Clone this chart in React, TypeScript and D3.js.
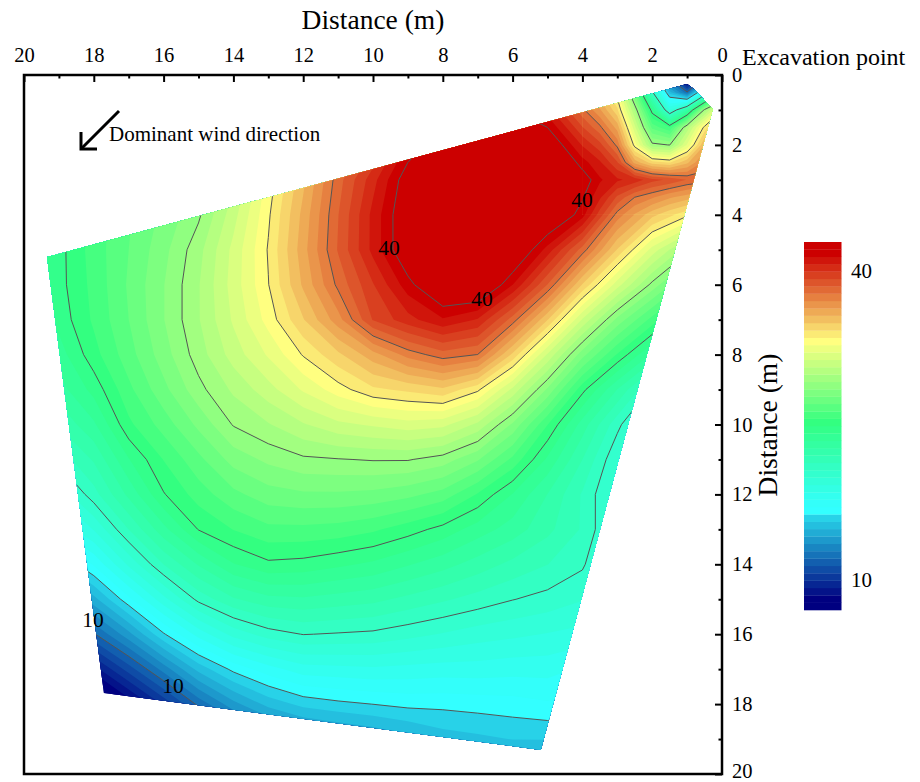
import React, {useEffect, useRef} from 'react';
import * as d3 from 'd3';

// axis ticks
const xMajor = [20, 18, 16, 14, 12, 10, 8, 6, 4, 2, 0];
const xMinor = [19, 17, 15, 13, 11, 9, 7, 5, 3, 1];
const yMajor = [0, 2, 4, 6, 8, 10, 12, 14, 16, 18, 20];
const yMinor = [1, 3, 5, 7, 9, 11, 13, 15, 17, 19];

// measured field, 1 m grid: rows y = 0..20, columns x = 20..0
const fieldRows = [
  [20.3,22.0,23.1,24.1,25.0,25.9,27.1,28.9,30.6,32.7,34.0,35.7,36.6,37.0,36.6,35.3,32.3,27.1,15.6,3.6,18.6],
  [20.3,22.0,23.3,24.4,25.2,26.3,27.6,29.7,31.9,34.0,35.7,37.9,39.1,39.8,40.0,38.9,35.9,32.3,22.4,20.7,31.4],
  [20.3,22.0,23.5,24.6,25.4,26.5,28.0,30.4,32.7,35.1,37.0,39.4,40.6,41.3,41.5,41.1,38.5,35.5,27.4,30.1,34.9],
  [20.3,22.0,23.7,24.8,25.9,26.7,28.4,31.0,33.4,36.1,38.3,40.6,42.1,42.6,42.1,41.5,40.6,38.7,37.4,36.4,35.3],
  [20.7,22.4,23.9,24.9,25.9,27.0,29.0,31.3,33.8,36.4,38.8,40.9,42.1,42.6,42.4,41.3,39.6,35.4,33.1,31.6,30.1],
  [21.1,22.6,23.9,25.0,26.2,27.6,29.5,31.5,34.0,36.5,38.8,40.9,42.6,42.6,41.3,39.0,36.1,32.8,29.7,27.4,25.0],
  [21.4,22.6,23.8,25.1,26.4,27.8,29.6,31.4,33.7,35.9,37.8,39.7,41.3,41.5,39.3,36.4,32.8,29.6,26.9,24.6,22.4],
  [21.6,22.4,23.7,25.0,26.4,27.8,29.4,31.0,32.8,34.7,37.2,38.3,39.2,38.5,36.1,32.9,29.2,26.2,24.0,21.8,19.8],
  [21.1,21.8,23.3,24.7,26.1,27.5,28.9,30.1,31.5,32.7,34.0,35.3,36.1,35.7,32.7,29.2,26.0,23.5,21.3,19.2,17.3],
  [20.5,21.1,22.4,24.1,25.5,26.9,28.0,29.0,30.1,31.1,32.0,32.3,32.7,31.6,29.1,26.3,23.1,20.7,18.4,16.4,14.7],
  [19.0,20.1,21.3,23.4,24.6,25.9,27.2,27.8,28.5,29.1,29.4,29.7,29.5,28.4,26.3,23.6,21.1,18.8,16.9,15.1,13.9],
  [17.9,18.8,20.1,22.1,23.6,24.8,26.0,26.6,27.0,27.1,27.2,27.2,26.8,25.8,24.1,22.0,20.0,17.9,16.0,14.3,13.0],
  [16.4,17.3,19.0,20.9,22.8,23.9,24.8,25.4,25.6,25.6,25.5,25.2,24.7,23.5,22.1,20.7,19.2,17.5,15.8,14.1,12.6],
  [14.7,15.8,17.2,19.3,21.2,22.9,23.6,24.1,24.1,24.0,23.7,23.2,22.6,21.8,21.1,20.2,19.2,17.5,15.6,14.1,12.6],
  [12.4,13.4,15.1,17.3,19.3,20.8,22.1,22.7,22.6,22.3,22.0,21.5,21.0,20.4,19.8,19.3,18.7,17.1,15.6,14.1,12.6],
  [9.4,10.6,12.6,14.8,16.9,18.8,19.9,20.5,20.6,20.4,20.2,19.8,19.4,19.0,18.6,18.3,17.9,16.6,15.1,13.9,12.6],
  [7.0,8.5,9.9,11.9,14.2,16.0,17.4,18.2,18.6,18.5,18.4,18.1,17.8,17.5,17.3,17.1,16.9,16.0,14.7,13.4,12.1],
  [4.4,6.1,6.8,8.9,11.0,13.1,14.5,15.4,16.1,16.2,16.3,16.2,16.1,16.1,16.0,16.0,15.6,14.9,13.9,13.0,11.7],
  [1.4,3.1,3.4,5.9,8.0,10.2,11.9,13.1,13.8,14.1,14.3,14.5,14.5,14.6,14.7,14.9,14.7,14.1,13.2,12.4,11.3],
  [-1.1,0.1,1.0,3.1,5.3,7.2,9.1,10.4,11.3,11.7,12.1,12.6,13.2,13.4,13.6,13.6,13.6,13.0,12.4,11.5,10.4],
  [-2.9,-2.0,-0.7,1.0,3.1,5.3,7.0,8.3,9.1,9.6,10.0,10.4,11.2,11.6,11.8,11.9,12.0,11.7,11.3,10.6,9.6],
];

// finer readings near the excavation point, 0.5 m grid: rows y = 0..4, columns x = 4..0
const nearRows = [
  [32.3,30.6,27.1,22.9,15.6,9.1,3.6,8.7,18.6],
  [34.1,33.1,31.0,25.4,18.8,13.2,10.2,16.9,22.9],
  [35.9,34.4,32.3,27.8,22.4,17.2,20.7,27.4,31.4],
  [37.2,35.9,34.0,29.5,24.8,23.6,28.1,31.7,34.0],
  [38.5,37.4,35.5,31.1,27.4,27.1,30.1,33.6,34.9],
  [39.6,38.7,37.2,34.0,32.5,32.1,33.4,35.3,35.7],
  [40.6,39.4,38.7,38.3,37.4,37.0,36.4,36.1,35.3],
  [40.1,38.7,37.0,35.7,35.1,34.4,33.9,33.4,32.7],
  [39.6,37.5,35.4,34.2,33.1,32.3,31.6,30.9,30.1],
];

// outline of the surveyed area (x, y in m)
const outlineX = [19.34, 1.0, 0.77, 0.43, 0.26, 5.19, 17.71];
const outlineY = [5.21, 0.26, 0.43, 0.8, 0.97, 19.31, 17.68];

// contour lines and their labels
const lineLevels = [10, 14.29, 18.57, 22.86, 27.14, 31.43, 35.71, 40];
const labelTexts = ['40', '40', '40', '10', '10'];
const labelX = [9.54, 4.01, 6.88, 18.02, 15.73];
const labelY = [4.95, 3.58, 6.41, 15.59, 17.48];

// colour bar
const bandCount = 50;
const bandMin = 5;
const bandStep = 0.7143;
const colorIndex = [0, 1, 12, 13, 14, 25, 36, 48, 49];
const colorValues = ['#000080', '#000080', '#28d2e8', '#33ffff', '#33fffa', '#33ff80', '#ffff80', '#cc0000', '#cc0000'];
const barLabels = [10, 40];

const FONT = '"Liberation Serif", "Times New Roman", serif';

export default function App() {
  const ref = useRef<SVGSVGElement>(null);

  useEffect(() => {
    const svg = d3.select(ref.current);
    svg.selectAll('*').remove();

    const x = d3.scaleLinear().domain([20, 0]).range([24, 722]);
    const y = d3.scaleLinear().domain([0, 20]).range([75, 774]);
    const bandColor = d3.scaleLinear<string>().domain(colorIndex).range(colorValues);
    const bandIds = d3.range(bandCount);
    const thresholds = bandIds.map(k => bandMin + k * bandStep);

    const defs = svg.append('defs');
    const outline = outlineX.map((v, i) => [x(v), y(outlineY[i])]);
    defs.append('clipPath').attr('id', 'area')
      .append('polygon').attr('points', outline.map(p => p.join(',')).join(' '));
    defs.append('clipPath').attr('id', 'near')
      .append('rect')
      .attr('x', x(4)).attr('y', y(0))
      .attr('width', x(0) - x(4)).attr('height', y(4) - y(0));

    const drawField = (g, rows, mx, my) => {
      const ny = rows.length;
      const nx = rows[0].length;
      const flat = rows.flat();
      const gen = d3.contours().size([nx, ny]);
      const path = d3.geoPath(d3.geoTransform({
        point(px, py) {
          this.stream.point(mx(px - 0.5), my(py - 0.5));
        }
      }));
      g.append('rect')
        .attr('x', 0).attr('y', 0).attr('width', 920).attr('height', 782)
        .attr('fill', bandColor(0));
      thresholds.forEach((t, k) => {
        g.append('path')
          .attr('d', path(gen.contour(flat, t)))
          .attr('fill', bandColor(k));
      });
      lineLevels.forEach(t => {
        g.append('path')
          .attr('d', path(gen.contour(flat, t)))
          .attr('fill', 'none')
          .attr('stroke', '#555')
          .attr('stroke-width', 1);
      });
    };

    const area = svg.append('g').attr('clip-path', 'url(#area)');
    drawField(area.append('g'), fieldRows, i => x(20 - i), j => y(j));
    drawField(area.append('g').attr('clip-path', 'url(#near)'), nearRows, i => x(4 - i * 0.5), j => y(j * 0.5));

    // contour labels
    svg.append('g').selectAll('text')
      .data(labelTexts)
      .enter()
      .append('text')
      .attr('x', (d, i) => x(labelX[i]))
      .attr('y', (d, i) => y(labelY[i]))
      .attr('dy', '0.33em')
      .attr('text-anchor', 'middle')
      .attr('font-family', FONT)
      .attr('font-size', 21.5)
      .attr('fill', '#000')
      .text(d => d);

    // axes, ticks point into the frame
    const styleAxis = g => {
      g.attr('font-family', FONT).attr('font-size', 20.5);
      g.select('.domain').remove();
      g.selectAll('line').attr('stroke', '#000').attr('stroke-width', 2);
      g.selectAll('text').attr('fill', '#000');
    };
    svg.append('g').attr('transform', 'translate(0,75)')
      .call(d3.axisTop(x).tickValues(xMajor).tickSize(-7).tickPadding(13).tickFormat(d3.format('d')))
      .call(styleAxis);
    svg.append('g').attr('transform', 'translate(0,75)')
      .call(d3.axisTop(x).tickValues(xMinor).tickSize(-3.5).tickFormat(() => ''))
      .call(styleAxis);
    const rightAxis = svg.append('g').attr('transform', 'translate(722,0)')
      .call(d3.axisRight(y).tickValues(yMajor).tickSize(-7).tickPadding(10).tickFormat(d3.format('d')))
      .call(styleAxis);
    // last label sits against the page edge
    rightAxis.selectAll('text').filter(d => d === 20).attr('y', -3.2);
    svg.append('g').attr('transform', 'translate(722,0)')
      .call(d3.axisRight(y).tickValues(yMinor).tickSize(-3.5).tickFormat(() => ''))
      .call(styleAxis);

    svg.append('rect')
      .attr('x', x(20)).attr('y', y(0))
      .attr('width', x(0) - x(20)).attr('height', y(20) - y(0))
      .attr('fill', 'none').attr('stroke', '#000').attr('stroke-width', 2.5);

    const addText = (tx, ty, size, str) => svg.append('text')
      .attr('x', tx).attr('y', ty)
      .attr('font-family', FONT).attr('font-size', size).attr('fill', '#000')
      .text(str);

    addText(373, 29, 27.5, 'Distance (m)').attr('text-anchor', 'middle');
    addText(742, 65, 24, 'Excavation point');
    addText(109, 141, 21, 'Dominant wind direction');
    addText(0, 0, 27.5, 'Distance (m)')
      .attr('text-anchor', 'middle')
      .attr('transform', 'translate(777,425) rotate(-90)');

    // wind arrow
    const arrow = svg.append('g').attr('fill', 'none').attr('stroke', '#000').attr('stroke-width', 3);
    arrow.append('path').attr('d', d3.line()([[119, 111], [81, 149]]));
    arrow.append('path').attr('d', d3.line()([[81, 132], [81, 149], [97, 149]]));

    // colour bar
    const barY = d3.scaleLinear().domain([0, bandCount]).range([610, 242]);
    svg.append('g').selectAll('rect')
      .data(bandIds)
      .enter()
      .append('rect')
      .attr('x', 804)
      .attr('y', k => barY(k + 1))
      .attr('width', 37.5)
      .attr('height', k => barY(k) - barY(k + 1) + 0.3)
      .attr('fill', k => bandColor(k));
    const labelPos = d3.scaleLinear().domain([10, 40]).range([580, 271]);
    svg.append('g').selectAll('text')
      .data(barLabels)
      .enter()
      .append('text')
      .attr('x', 851)
      .attr('y', d => labelPos(d))
      .attr('dy', '0.33em')
      .attr('font-family', FONT)
      .attr('font-size', 21)
      .attr('fill', '#000')
      .text(d => d);
  }, []);

  return <svg ref={ref} width={920} height={782} style={{position: 'absolute', left: 0, top: 0, background: '#fff'}} />;
}
